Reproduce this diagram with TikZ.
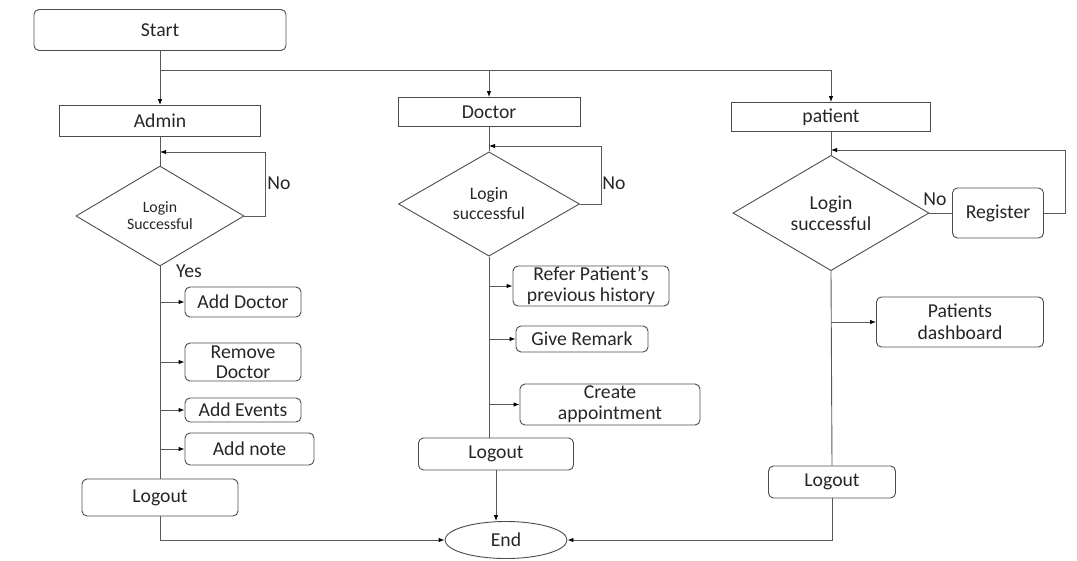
\documentclass[tikz,border=0pt]{standalone}
\usepackage{fontspec}
\setmainfont{Carlito}
\usetikzlibrary{arrows.meta, shapes.geometric, positioning}

\begin{document}
\begin{tikzpicture}[x=1pt, y=-1pt,
  every node/.style={font=\fontsize{19.7}{22}\selectfont, text=black!85},
  box/.style={draw=black!70, line width=0.9pt, rectangle, inner sep=0pt, align=center},
  rbox/.style={box, rounded corners=5pt},
  decision/.style={draw=black!70, line width=0.9pt, diamond, inner sep=0pt, align=center},
  term/.style={draw=black!70, line width=0.9pt, ellipse, minimum width=122pt, minimum height=37pt, inner sep=0pt},
  line/.style={draw=black!65, line width=0.9pt},
  arr/.style={line, -{Latex[length=6pt, width=4.5pt, black]}},
  lbl/.style={inner sep=0pt}]
\useasboundingbox (0,0) rectangle (1077,560);

\node[rbox, minimum width=252pt, minimum height=41pt] (start) at (160,30) {Start};
\node[box, minimum width=201pt, minimum height=31pt] (admin) at (160,121) {Admin};
\node[box, minimum width=182pt, minimum height=29pt] (doctor) at (489,112) {Doctor};
\node[box, minimum width=199pt, minimum height=29pt] (patient) at (831,117) {patient};

\node[decision, minimum width=168pt, minimum height=100pt, font=\fontsize{15.8}{17}\selectfont] (adec) at (160,216) {Login\\Successful};
\node[decision, minimum width=181pt, minimum height=84pt, font=\fontsize{17.6}{20}\selectfont] (ddec) at (489,204) {Login\\successful};
\node[decision, minimum width=196pt, minimum height=98pt, font=\fontsize{19.7}{21}\selectfont] (pdec) at (831,213) {Login\\successful};
\node[rbox, minimum width=91pt, minimum height=50pt] (reg) at (998,213) {Register};

\node[lbl] (ano) at (279,183) {No};
\node[lbl] (dno) at (614,183) {No};
\node[lbl] (pno) at (935,199) {No};
\node[lbl] (ayes) at (189,271) {Yes};

\node[rbox, minimum width=116pt, minimum height=30pt] (adddoc) at (243,302) {Add Doctor};
\node[rbox, minimum width=116pt, minimum height=38pt, font=\fontsize{19.7}{20}\selectfont] (remdoc) at (243,362) {Remove\\Doctor};
\node[rbox, minimum width=116pt, minimum height=24pt] (addev) at (243,410) {Add Events};
\node[rbox, minimum width=129pt, minimum height=32pt] (addnote) at (249.5,449) {Add note};
\node[rbox, minimum width=156pt, minimum height=37pt] (alogout) at (160,497.5) {Logout};

\node[rbox, minimum width=156pt, minimum height=40pt, font=\fontsize{19.7}{21}\selectfont] (refer) at (591,286) {Refer Patient’s\\previous history};
\node[rbox, minimum width=132pt, minimum height=26pt] (remark) at (582,339) {Give Remark};
\node[rbox, minimum width=180pt, minimum height=41pt, font=\fontsize{19.7}{21}\selectfont] (appt) at (610,404.5) {Create\\appointment};
\node[rbox, minimum width=155pt, minimum height=32pt] (dlogout) at (496,454) {Logout};

\node[rbox, minimum width=167pt, minimum height=50pt] (dash) at (960,322) {Patients\\dashboard};
\node[rbox, minimum width=127pt, minimum height=32pt] (plogout) at (832,482) {Logout};

\node[term] (end) at (506,540) {End};

\coordinate (split) at (160,70);
\coordinate (ajoin) at (160,152);
\coordinate (djoin) at (489,146);
\coordinate (pjoin) at (831,150);

\draw[line] (start.south) -- (split) -- (split -| patient.north);
\draw[arr] (split) -- (admin.north);
\draw[arr] (split -| doctor.north) -- (doctor.north);
\draw[arr] (split -| patient.north) -- (patient.north);

\draw[line] (admin.south) -- (adec.north);
\draw[arr] (adec.east) -- ++(21,0) |- (ajoin);
\draw[line] (adec.south) -- (alogout.north);
\foreach \n in {adddoc, remdoc, addev, addnote}
  \draw[arr] (\n.west -| adec.south) -- (\n.west);
\draw[arr] (alogout.south) |- (end.west);

\draw[line] (doctor.south) -- (ddec.north);
\draw[arr] (ddec.east) -- ++(21,0) |- (djoin);
\draw[line] (ddec.south) -- (ddec.south |- dlogout.north);
\foreach \n in {refer, remark, appt}
  \draw[arr] (\n.west -| ddec.south) -- (\n.west);
\draw[arr] (dlogout.south) -- (dlogout.south |- end.north);

\draw[line] (patient.south) -- (pdec.north);
\draw[line] (pdec.east) -- (reg.west);
\draw[arr] (reg.east) -- ++(21,0) |- (pjoin);
\draw[line] (pdec.south) -- (plogout.north);
\draw[arr] (dash.west -| pdec.south) -- (dash.west);
\draw[arr] (plogout.south) |- (end.east);
\end{tikzpicture}
\end{document}
